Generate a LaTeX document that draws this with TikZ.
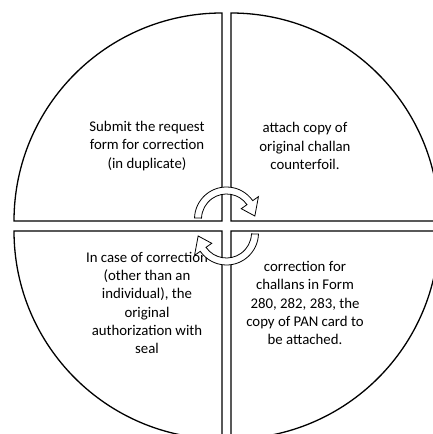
\documentclass[tikz,border=0pt]{standalone}
\usepackage{fontspec}
\setmainfont{Carlito}
\usepackage{tikz}
\usetikzlibrary{positioning,calc}
\definecolor{ink}{HTML}{000000}

\begin{document}
\begin{tikzpicture}[x=1pt, y=1pt,
  sector/.style={draw=ink, line width=1.3pt, fill=white},
  label/.style={font=\fontsize{14.8}{18.2}\selectfont, align=center, text=ink, inner sep=0pt},
  turn/.style={draw=ink, line width=0.8pt, fill=white, line join=miter}]

\useasboundingbox (0,0) rectangle (433,434);
\clip (0,0) rectangle (433,434);

% four quarters with a gap between them
\coordinate (tl) at (222,213);
\coordinate (tr) at (231,213);
\coordinate (bl) at (222,203);
\coordinate (br) at (231,203);
\draw[sector] (tl) -- ++(-208,0) arc[start angle=180, end angle=90, radius=208] -- cycle;
\draw[sector] (tr) -- ++(0,208) arc[start angle=90, end angle=0, radius=208] -- cycle;
\draw[sector] (bl) -- ++(0,-208) arc[start angle=270, end angle=180, radius=208] -- cycle;
\draw[sector] (br) -- ++(208,0) arc[start angle=0, end angle=-90, radius=208] -- cycle;

\node[label] (submit) at (147,288) {Submit the request\\form for correction\\(in duplicate)};
\node[label] (attach) at (305,288) {attach copy of\\original challan\\counterfoil.};
\node[label] (incase) at (147,131) {In case of correction\\(other than an\\individual), the\\original\\authorization with\\seal};
\node[label] (pancard) at (305,131) {correction for\\challans in Form\\280, 282, 283, the\\copy of PAN card to\\be attached.};

% curved arrows in the middle
\coordinate (hub) at (226.5,208);
\foreach \rot/\dy in {0/7, 180/7} {
  \begin{scope}[shift={(hub)}, rotate=\rot, shift={(0,\dy)}]
    \draw[turn] (178:32) arc[start angle=178, end angle=35, radius=32]
      -- (35:39) -- (6:28.5) -- (35:18) -- (35:25)
      arc[start angle=35, end angle=178, radius=25] -- cycle;
  \end{scope}
}
\end{tikzpicture}
\end{document}
